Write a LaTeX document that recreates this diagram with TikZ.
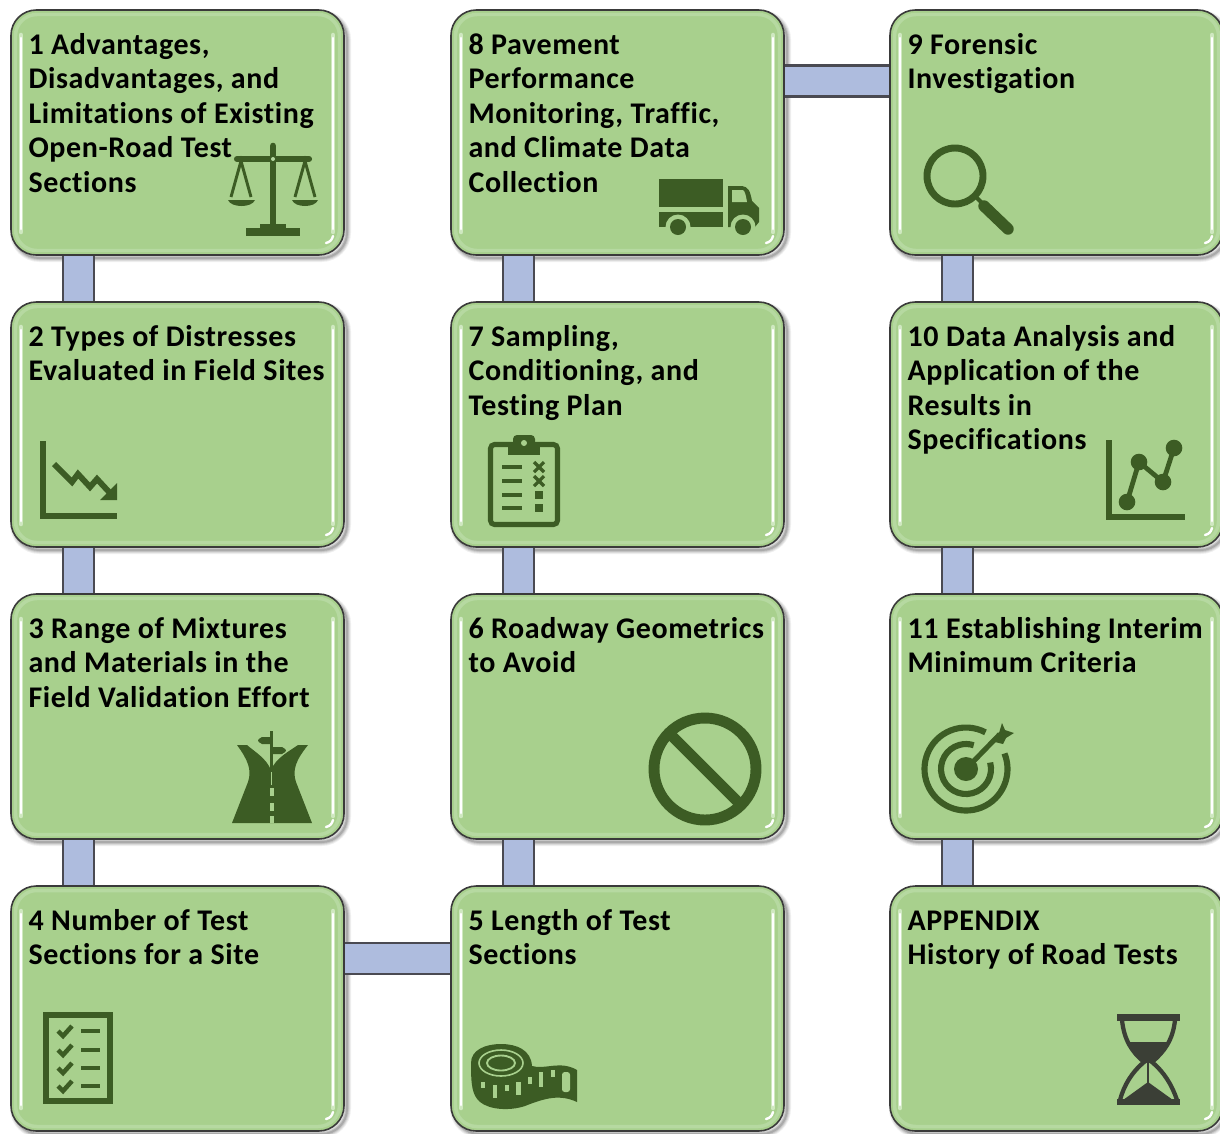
\documentclass[tikz,border=0pt]{standalone}
\usepackage{fontspec}
\setmainfont[LetterSpace=2.0,Ligatures=NoCommon]{Carlito}
\usetikzlibrary{calc}
\definecolor{boxg}{HTML}{A8D08D}
\definecolor{rimg}{HTML}{B6D9A1}
\definecolor{haloG}{HTML}{CFE8C0}
\definecolor{edgek}{HTML}{3A3A3A}
\definecolor{iconG}{HTML}{3C5C24}
\definecolor{glass}{HTML}{3B3F36}
\definecolor{connB}{HTML}{AEBCDE}
\definecolor{connE}{HTML}{4A4A52}
\pgfdeclarelayer{bg}
\pgfsetlayers{bg,main}
\tikzset{
  greenbox/.style={anchor=north west,outer sep=0pt,draw=edgek,line width=1.2pt,fill=boxg,rounded corners=19pt,
    inner xsep=0pt,inner ysep=15pt,text=black,font=\bfseries\fontsize{22.5}{25.9}\selectfont},
  conn/.style={draw=connE,line width=1.6pt,double=connB,double distance=21.6pt},
  iconline/.style={draw=iconG,line cap=butt},
}
\newcommand{\gbox}[4]{%
  \node[greenbox] (#1) at (#2,#3) {\parbox[c][153.75pt][t]{249.75pt}{\leftskip=13.2pt\rightskip=0pt plus 1fil\parfillskip=0pt plus 1fil\strut #4}};
  \begin{pgfonlayer}{bg}
    \begin{scope}[shift={(#2,#3)}]
      \foreach \w/\o in {6/.06,4.5/.08,3/.10,1.5/.14}{
        \draw[black,opacity=\o,rounded corners=19pt,line width=\w pt] (3,4) rectangle (336,248);
      }
    \end{scope}
  \end{pgfonlayer}
  \begin{scope}[shift={(#2,#3)}]
    \draw[rimg,line width=2.6pt,rounded corners=16pt] (4.5,4.5) rectangle (328.5,240.5);
    \draw[haloG,line width=3.4pt,line cap=round] (10,25) -- (10,222);
    \draw[white,line width=2pt,line cap=round] (10,28) -- (10,219);
    \draw[haloG,line width=3.4pt,line cap=round] (322,25) -- (322,222);
    \draw[white,line width=2pt,line cap=round] (322,28) -- (322,219);
    \draw[white,line width=1.8pt,line cap=round] (322,226) .. controls (321,230) and (319,232) .. (315,233);
  \end{scope}
}
\begin{document}
\begin{tikzpicture}[x=0.75pt,y=-0.75pt]
\useasboundingbox (0,0) rectangle (1220,1133);
\begin{pgfonlayer}{bg}
\fill[white] (0,0) rectangle (1220,1133);
\end{pgfonlayer}
% boxes
\gbox{b1}{11}{10}{1 Advantages,\\Disadvantages, and\\Limitations of Existing\\Open-Road Test\\Sections}
\gbox{b2}{11}{302}{2 Types of Distresses\\Evaluated in Field Sites}
\gbox{b3}{11}{594}{3 Range of Mixtures\\and Materials in the\\Field Validation Effort}
\gbox{b4}{11}{886}{4 Number of Test\\Sections for a Site}
\gbox{b5}{451}{886}{5 Length of Test\\Sections}
\gbox{b6}{451}{594}{6 Roadway Geometrics\\to Avoid}
\gbox{b7}{451}{302}{7 Sampling,\\Conditioning, and\\Testing Plan}
\gbox{b8}{451}{10}{8 Pavement\\Performance\\Monitoring, Traffic,\\and Climate Data\\Collection}
\gbox{b9}{890}{10}{9 Forensic\\Investigation}
\gbox{b10}{890}{302}{10 Data Analysis and\\Application of the\\Results in\\Specifications}
\gbox{b11}{890}{594}{11 Establishing Interim\\Minimum Criteria}
\gbox{b12}{890}{886}{APPENDIX\\History of Road Tests}
% connectors
\coordinate (cA) at (78.5,0);
\coordinate (cB) at (518.5,0);
\coordinate (cC) at (957.5,0);
\coordinate (hT) at (0,81);
\coordinate (hB) at (0,958.5);
\begin{pgfonlayer}{bg}
  \draw[conn] (b1.south -| cA) -- (b2.north -| cA);
  \draw[conn] (b2.south -| cA) -- (b3.north -| cA);
  \draw[conn] (b3.south -| cA) -- (b4.north -| cA);
  \draw[conn] (b4.east |- hB) -- (b5.west |- hB);
  \draw[conn] (b5.north -| cB) -- (b6.south -| cB);
  \draw[conn] (b6.north -| cB) -- (b7.south -| cB);
  \draw[conn] (b7.north -| cB) -- (b8.south -| cB);
  \draw[conn] (b8.east |- hT) -- (b9.west |- hT);
  \draw[conn] (b9.south -| cC) -- (b10.north -| cC);
  \draw[conn] (b10.south -| cC) -- (b11.north -| cC);
  \draw[conn] (b11.south -| cC) -- (b12.north -| cC);
\end{pgfonlayer}
% --- scales
\draw[iconline,line width=5pt,line cap=round] (273,146) -- (273,228);
\draw[iconline,line width=4.6pt,line cap=round] (237,159) -- (309,159);
\fill[iconG] (246,228) rectangle (300,236);
\fill[iconG] (260,224) rectangle (286,229);
\fill[rimg] (273,159) circle[radius=2];
\draw[iconline,line width=2.2pt] (231,197) -- (241,161) -- (251,197);
\draw[iconline,line width=2.2pt] (295,197) -- (305,161) -- (315,197);
\fill[iconG] (228,200) .. controls (231,208) and (252,208) .. (255,200) -- cycle;
\fill[iconG] (292,200) .. controls (295,208) and (315,208) .. (318,200) -- cycle;
% --- chart down
\draw[iconline,line width=5.2pt] (43,441) -- (43,516) -- (117,516);
\draw[iconline,line width=4.4pt] (54,464) -- (72,482) -- (78,474) -- (90,487) -- (97,479) -- (110,493);
\fill[iconG] (117,483) -- (117,500) -- (100,500) -- cycle;
% --- road
\fill[iconG] (232,823) -- (248,782) .. controls (252,770) and (248,760) .. (237,745) -- (247,745)
  .. controls (255,752) and (266,758) .. (271,770) .. controls (276,758) and (288,752) .. (298,745)
  -- (308,745) .. controls (296,760) and (292,770) .. (296,782) -- (312,823) -- cycle;
\draw[boxg,line width=1.4pt] (271.5,772) -- (271.5,785);
\fill[boxg] (269.5,788) rectangle (273.5,796);
\fill[boxg] (269.5,803) rectangle (273.5,811);
\fill[boxg] (269.5,816) rectangle (273.5,823);
\draw[iconline,line width=2pt] (271.5,731) -- (271.5,771);
\fill[iconG] (271,737) -- (262,737) .. controls (259,738) and (258,740) .. (258,740.5) .. controls (258,741) and (259,743) .. (262,744) -- (271,744) -- cycle;
\fill[iconG] (272,747) -- (282,747) .. controls (285,748) and (286,750) .. (286,750.5) .. controls (286,751) and (285,753) .. (282,754) -- (272,754) -- cycle;
% --- checklist
\draw[iconline,line width=4.6pt] (46,1015) rectangle (110,1101);
\foreach \yy in {1031,1050,1068,1086}{
  \draw[iconline,line width=3.4pt] (58,\yy) -- (63,\yy+5) -- (72,\yy-5);
  \draw[iconline,line width=3pt] (81,\yy) -- (100,\yy);
}
% --- tape
\fill[iconG] (471,1063) .. controls (471,1050) and (485,1044) .. (501,1044)
  .. controls (517,1044) and (531,1050) .. (532,1066)
  .. controls (545,1070) and (560,1060) .. (577,1070) -- (577,1102)
  .. controls (560,1094) and (545,1098) .. (525,1106)
  .. controls (510,1111) and (490,1110) .. (480,1102)
  .. controls (472,1095) and (471,1085) .. (471,1063) -- cycle;
\draw[boxg,line width=1.2pt] (501,1063) ellipse[x radius=22,y radius=13];
\draw[boxg,line width=1.4pt] (501,1063) ellipse[x radius=14,y radius=7.5];
\foreach \xx/\ya/\yb in {483/1082/1088,495/1085/1098,507/1085/1091,518.5/1082/1095,530/1077/1084,541/1072/1087,553/1070/1077}{
  \fill[boxg] (\xx-2.4,\ya) rectangle (\xx+2.4,\yb);
}
\fill[boxg,rounded corners=2pt] (562,1072) rectangle (570,1092);
% --- no sign
\draw[iconline,line width=8.2pt] (705,769) circle[radius=51];
\draw[iconline,line width=8.2pt] (669,733) -- (741,805);
% --- clipboard
\draw[iconline,line width=3.8pt,rounded corners=3pt] (490.5,444.5) rectangle (557.5,524.5);
\fill[iconG,rounded corners=3pt] (513,435) rectangle (535,450);
\fill[iconG] (508,444) rectangle (540,455);
\fill[boxg] (524,443) circle[radius=3];
\foreach \yy in {467,481,494.5,508}{
  \draw[iconline,line width=3pt] (502,\yy) -- (522,\yy);
}
\foreach \yy in {467,481}{
  \draw[iconline,line width=2.4pt] (534,\yy-5) -- (544,\yy+5);
  \draw[iconline,line width=2.4pt] (544,\yy-5) -- (534,\yy+5);
}
\foreach \yy in {495,508}{
  \fill[iconG] (535,\yy-4) rectangle (543,\yy+4);
}
% --- truck
\fill[iconG] (659,179) rectangle (723,207);
\fill[iconG] (659,212) rectangle (723,227);
\fill[iconG] (728,186) -- (742,186) .. controls (748,187) and (750,190) .. (752,201) -- (759,208) -- (759,222) -- (755,227) -- (728,227) -- cycle;
\fill[boxg] (732,190) -- (743,190) .. controls (745,191) and (746,196) .. (747,202) -- (732,202) -- cycle;
\fill[boxg] (678,227) circle[radius=12.5];
\fill[boxg] (743,227) circle[radius=12.5];
\fill[iconG] (678,227) circle[radius=8];
\fill[iconG] (743,227) circle[radius=8];
% --- magnifier
\draw[iconline,line width=5.2pt] (955,176) circle[radius=28];
\draw[iconline,line width=3pt] (974,195) -- (985,206);
\draw[iconline,line width=8.6pt,line cap=round] (984,206) -- (1008,229);
% --- line chart
\draw[iconline,line width=4.6pt] (1109,440) -- (1109,517) -- (1185,517);
\draw[iconline,line width=3.6pt] (1127,502) -- (1139,462) -- (1163,482) -- (1174,448);
\foreach \xx/\yy in {1127/502,1139/462,1163/482,1174/448}{
  \fill[iconG] (\xx,\yy) circle[radius=8.3];
}
% --- target
\draw[iconline,line width=4.6pt] (966,769) ++(-22:41.5) arc[start angle=-22,end angle=298,radius=41.5];
\draw[iconline,line width=4.6pt] (966,769) ++(-15:25) arc[start angle=-15,end angle=288,radius=25];
\fill[iconG] (966,769) circle[radius=12];
\draw[iconline,line width=3.8pt] (966,769) -- (1000,734);
\fill[iconG] (1002,723) -- (1005,730) -- (1014,733) -- (1006,738) -- (1003,744) -- (991,741) -- (999,733) -- cycle;
% --- hourglass
\fill[glass] (1117,1014) rectangle (1180,1021);
\fill[glass] (1117,1099) rectangle (1180,1105);
\draw[glass,line width=3.2pt] (1122,1020) .. controls (1124,1040) and (1132,1052) .. (1144,1062)
  .. controls (1132,1072) and (1124,1085) .. (1120,1100);
\draw[glass,line width=3.2pt] (1175,1020) .. controls (1173,1040) and (1164,1052) .. (1152,1062)
  .. controls (1164,1072) and (1172,1085) .. (1177,1100);
\fill[glass] (1129,1042) -- (1167,1042) .. controls (1162,1052) and (1156,1058) .. (1148,1064) .. controls (1140,1058) and (1134,1052) .. (1129,1042) -- cycle;
\draw[glass,line width=1.6pt] (1148,1060) -- (1148,1085);
\fill[glass] (1148,1082) -- (1173,1100) -- (1123,1100) -- cycle;
\end{tikzpicture}
\end{document}
